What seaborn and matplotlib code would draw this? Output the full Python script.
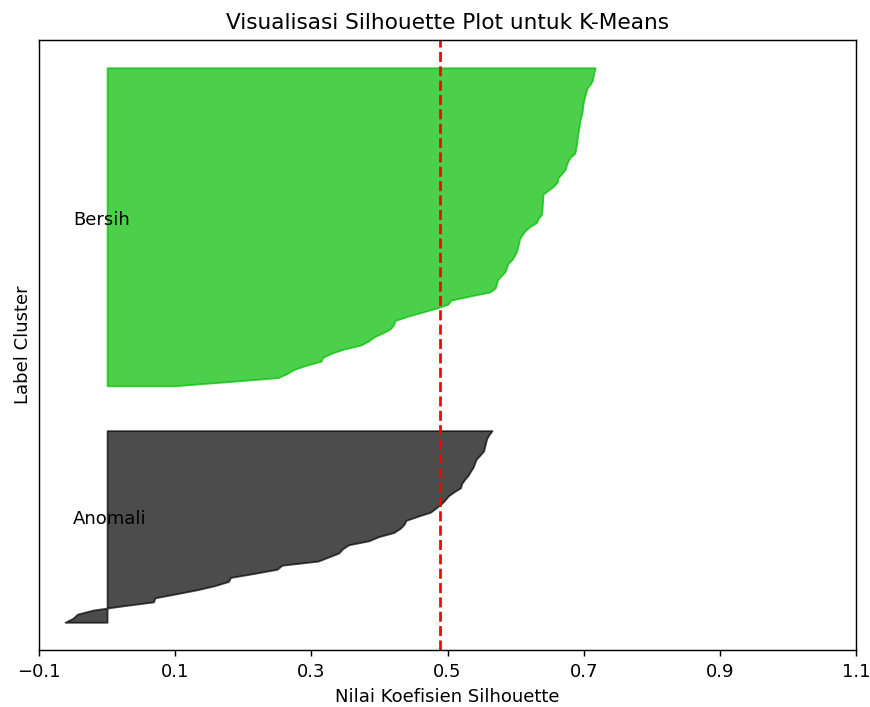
import matplotlib
matplotlib.use("Agg")
from matplotlib import pyplot as plt
import numpy as np
import seaborn as sns


# Silhouette values per cluster (sorted)
cluster_labels = ['Anomali', 'Bersih']

sil_anomali = [
    -0.0618, -0.0500, -0.0435, -0.0207, 0.0219, 0.0682, 0.0704, 0.1021,
    0.1330, 0.1585, 0.1782, 0.1814, 0.2168, 0.2496, 0.2569, 0.3098,
    0.3252, 0.3403, 0.3458, 0.3547, 0.3847, 0.3988, 0.4208, 0.4302,
    0.4361, 0.4391, 0.4563, 0.4750, 0.4828, 0.4905, 0.4963, 0.5012,
    0.5096, 0.5192, 0.5207, 0.5250, 0.5301, 0.5336, 0.5375, 0.5398,
    0.5422, 0.5477, 0.5530, 0.5545, 0.5560, 0.5574, 0.5608, 0.5654,
]

sil_bersih = [
    0.0998, 0.1773, 0.2512, 0.2643, 0.2746, 0.2919, 0.3139, 0.3172,
    0.3298, 0.3479, 0.3730, 0.3841, 0.3921, 0.4053, 0.4162, 0.4210,
    0.4229, 0.4405, 0.4618, 0.4828, 0.5007, 0.5050, 0.5328, 0.5624,
    0.5701, 0.5720, 0.5734, 0.5789, 0.5846, 0.5868, 0.5889, 0.5949,
    0.5986, 0.6015, 0.6031, 0.6046, 0.6059, 0.6093, 0.6138, 0.6205,
    0.6305, 0.6330, 0.6379, 0.6388, 0.6391, 0.6396, 0.6399, 0.6403,
    0.6484, 0.6563, 0.6613, 0.6622, 0.6676, 0.6727, 0.6745, 0.6766,
    0.6800, 0.6867, 0.6882, 0.6891, 0.6900, 0.6908, 0.6917, 0.6927,
    0.6936, 0.6945, 0.6961, 0.6976, 0.6983, 0.6989, 0.7001, 0.7017,
    0.7033, 0.7049, 0.7099, 0.7129, 0.7140, 0.7153, 0.7167,
]

silhouette_avg = 0.489
x_ticks = [-0.1, 0.1, 0.3, 0.5, 0.7, 0.9, 1.1]

# Plot (reference looks rendered at ~130 dpi)
dpi = 130
fig, ax = plt.subplots(figsize=(870 / dpi, 707 / dpi), dpi=dpi)
fig.subplots_adjust(left=0.0448, right=0.984, top=0.9434, bottom=0.0806)

cmap = sns.color_palette("nipy_spectral", as_cmap=True)
n_clusters = len(cluster_labels)

y_lower = 10
for i, (label, values) in enumerate(zip(cluster_labels, [sil_anomali, sil_bersih])):
    values = np.sort(np.array(values))
    size = len(values)
    y_upper = y_lower + size
    color = cmap(float(i) / n_clusters)
    ax.fill_betweenx(np.arange(y_lower, y_upper), 0, values,
                     facecolor=color, edgecolor=color, alpha=0.7)
    ax.text(-0.05, y_lower + 0.5 * size, label)
    y_lower = y_upper + 10

ax.axvline(x=silhouette_avg, color="red", linestyle="--")

ax.set_title("Visualisasi Silhouette Plot untuk K-Means")
ax.set_xlabel("Nilai Koefisien Silhouette")
ax.set_ylabel("Label Cluster")
ax.set_yticks([])
ax.set_xticks(x_ticks)
ax.set_xlim(-0.1, 1.1)

plt.savefig("out.png", dpi=dpi)
